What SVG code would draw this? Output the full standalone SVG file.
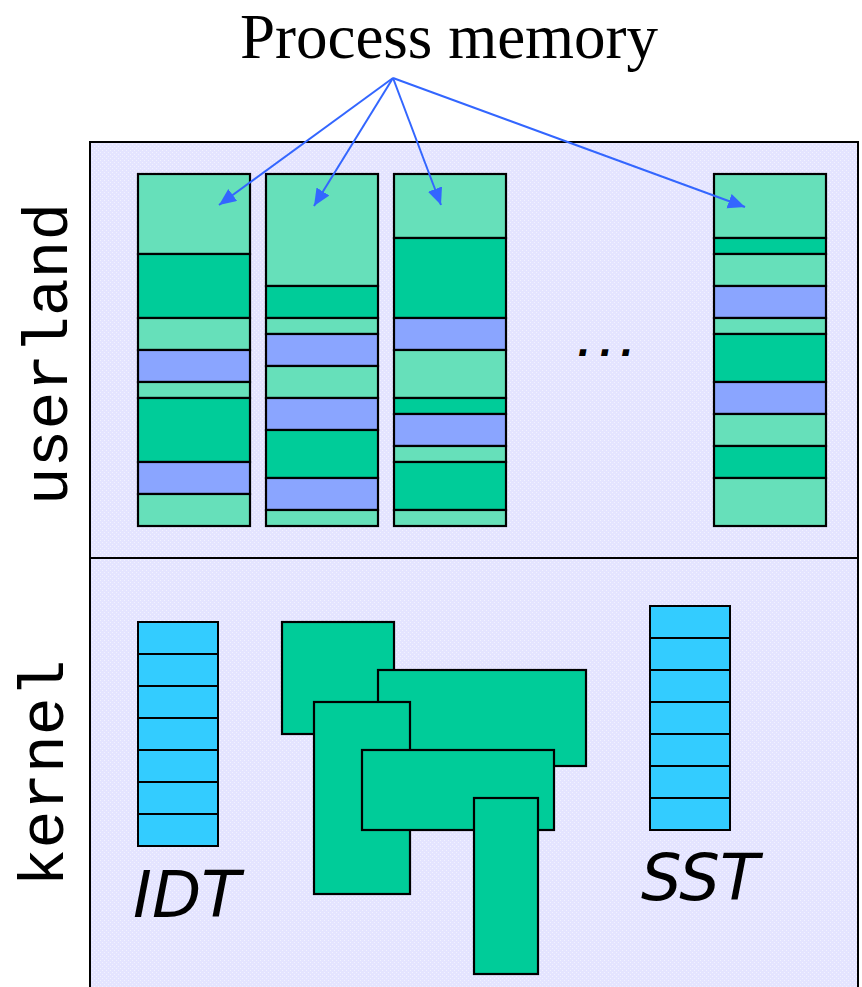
<svg xmlns="http://www.w3.org/2000/svg" width="862" height="987" viewBox="0 0 862 987">
  <defs>
    <!-- light lavender dither for the address-space panel -->
    <pattern id="lavender" width="4" height="4" patternUnits="userSpaceOnUse">
      <rect width="4" height="4" fill="#E4E4FF"/>
      <rect x="0" y="0" width="1" height="1" fill="#F2F2FF"/>
      <rect x="2" y="2" width="1" height="1" fill="#F2F2FF"/>
    </pattern>
    <marker id="head" markerUnits="userSpaceOnUse" markerWidth="18" markerHeight="16" refX="17" refY="7.5" orient="auto">
      <path d="M0,0 L17,7.5 L0,15 Z" fill="#3366FF"/>
    </marker>
  </defs>
  <style>
    .panel { fill: url(#lavender); stroke: #000; stroke-width: 2; }
    .free  { fill: #66E0BA; stroke: #000; stroke-width: 2.2; }
    .used  { fill: #00CC99; stroke: #000; stroke-width: 2.2; }
    .lib   { fill: #8AA5FF; stroke: #000; stroke-width: 2.2; }
    .kobj  { fill: #00CC99; stroke: #000; stroke-width: 2.2; }
    .table { fill: #33CCFF; stroke: #000; stroke-width: 2; }
    .row   { stroke: #000; stroke-width: 1.8; }
    .link  { fill: none; stroke: #3366FF; stroke-width: 2; marker-end: url(#head); }
    .title { font-family: "Liberation Serif", "Times New Roman", serif; font-size: 63px; fill: #000; }
    .mono  { font-family: "Liberation Mono", "Courier New", monospace; font-size: 63px; fill: #000; }
    .tag   { font-family: "DejaVu Sans", Verdana, sans-serif; font-style: italic; font-size: 64px; fill: #000; }
  </style>

  <rect width="862" height="987" fill="#FFFFFF"/>

  <!-- address space panel: userland above, kernel below -->
  <g id="panel">
    <rect class="panel" x="90" y="142" width="768" height="860"/>
    <line x1="90" y1="558" x2="858" y2="558" stroke="#000" stroke-width="2"/>
  </g>

  <g id="title">
    <text class="title" x="449" y="58" text-anchor="middle">Process memory</text>
  </g>

  <g id="label-userland">
    <text class="mono" transform="translate(67,354) rotate(-90)" text-anchor="middle">userland</text>
  </g>
  <g id="label-kernel">
    <text class="mono" transform="translate(63,773) rotate(-90)" text-anchor="middle">kernel</text>
  </g>

  <!-- process 1 -->
  <g id="process-1">
    <rect class="free" x="138" y="174" width="112" height="80"/>
    <rect class="used" x="138" y="254" width="112" height="64"/>
    <rect class="free" x="138" y="318" width="112" height="32"/>
    <rect class="lib"  x="138" y="350" width="112" height="32"/>
    <rect class="free" x="138" y="382" width="112" height="16"/>
    <rect class="used" x="138" y="398" width="112" height="64"/>
    <rect class="lib"  x="138" y="462" width="112" height="32"/>
    <rect class="free" x="138" y="494" width="112" height="32"/>
  </g>

  <!-- process 2 -->
  <g id="process-2">
    <rect class="free" x="266" y="174" width="112" height="112"/>
    <rect class="used" x="266" y="286" width="112" height="32"/>
    <rect class="free" x="266" y="318" width="112" height="16"/>
    <rect class="lib"  x="266" y="334" width="112" height="32"/>
    <rect class="free" x="266" y="366" width="112" height="32"/>
    <rect class="lib"  x="266" y="398" width="112" height="32"/>
    <rect class="used" x="266" y="430" width="112" height="48"/>
    <rect class="lib"  x="266" y="478" width="112" height="32"/>
    <rect class="free" x="266" y="510" width="112" height="16"/>
  </g>

  <!-- process 3 -->
  <g id="process-3">
    <rect class="free" x="394" y="174" width="112" height="64"/>
    <rect class="used" x="394" y="238" width="112" height="80"/>
    <rect class="lib"  x="394" y="318" width="112" height="32"/>
    <rect class="free" x="394" y="350" width="112" height="48"/>
    <rect class="used" x="394" y="398" width="112" height="16"/>
    <rect class="lib"  x="394" y="414" width="112" height="32"/>
    <rect class="free" x="394" y="446" width="112" height="16"/>
    <rect class="used" x="394" y="462" width="112" height="48"/>
    <rect class="free" x="394" y="510" width="112" height="16"/>
  </g>

  <g id="ellipsis">
    <text x="578 600 621" y="356" font-family="'Liberation Sans', Arial, sans-serif" font-style="italic" font-weight="bold" font-size="44">...</text>
  </g>

  <!-- process n -->
  <g id="process-n">
    <rect class="free" x="714" y="174" width="112" height="64"/>
    <rect class="used" x="714" y="238" width="112" height="16"/>
    <rect class="free" x="714" y="254" width="112" height="32"/>
    <rect class="lib"  x="714" y="286" width="112" height="32"/>
    <rect class="free" x="714" y="318" width="112" height="16"/>
    <rect class="used" x="714" y="334" width="112" height="48"/>
    <rect class="lib"  x="714" y="382" width="112" height="32"/>
    <rect class="free" x="714" y="414" width="112" height="32"/>
    <rect class="used" x="714" y="446" width="112" height="32"/>
    <rect class="free" x="714" y="478" width="112" height="48"/>
  </g>

  <!-- interrupt descriptor table -->
  <g id="idt">
    <rect class="table" x="138" y="622" width="80" height="224"/>
    <line class="row" x1="138" y1="654" x2="218" y2="654"/>
    <line class="row" x1="138" y1="686" x2="218" y2="686"/>
    <line class="row" x1="138" y1="718" x2="218" y2="718"/>
    <line class="row" x1="138" y1="750" x2="218" y2="750"/>
    <line class="row" x1="138" y1="782" x2="218" y2="782"/>
    <line class="row" x1="138" y1="814" x2="218" y2="814"/>
    <text class="tag" x="133" y="917">IDT</text>
  </g>

  <!-- kernel data structures -->
  <g id="kernel-objects">
    <rect class="kobj" x="282" y="622" width="112" height="112"/>
    <rect class="kobj" x="378" y="670" width="208" height="96"/>
    <rect class="kobj" x="314" y="702" width="96" height="192"/>
    <rect class="kobj" x="362" y="750" width="192" height="80"/>
    <rect class="kobj" x="474" y="798" width="64" height="176"/>
  </g>

  <!-- system service table -->
  <g id="sst">
    <rect class="table" x="650" y="606" width="80" height="224"/>
    <line class="row" x1="650" y1="638" x2="730" y2="638"/>
    <line class="row" x1="650" y1="670" x2="730" y2="670"/>
    <line class="row" x1="650" y1="702" x2="730" y2="702"/>
    <line class="row" x1="650" y1="734" x2="730" y2="734"/>
    <line class="row" x1="650" y1="766" x2="730" y2="766"/>
    <line class="row" x1="650" y1="798" x2="730" y2="798"/>
    <text class="tag" x="641" y="900">SST</text>
  </g>

  <g id="connectors">
    <line class="link" x1="393" y1="78" x2="219" y2="205"/>
    <line class="link" x1="393" y1="78" x2="314" y2="206"/>
    <line class="link" x1="393" y1="78" x2="441" y2="205"/>
    <line class="link" x1="393" y1="78" x2="745" y2="207"/>
  </g>
</svg>
